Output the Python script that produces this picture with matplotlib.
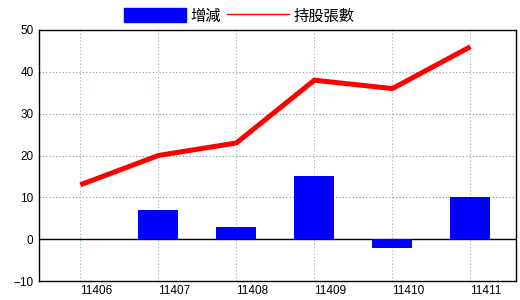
import matplotlib
matplotlib.use('Agg')
import matplotlib.pyplot as plt
from matplotlib.patches import Patch
from matplotlib.lines import Line2D

# data
months = ['11406', '11407', '11408', '11409', '11410', '11411']
change = [0, 7, 3, 15, -2, 10]        # 增減
holdings = [13, 20, 23, 38, 36, 46]   # 持股張數

plt.rcParams['font.family'] = ['Liberation Sans', 'DejaVu Sans']

fig = plt.figure(figsize=(5.2, 3.0), dpi=100)
ax = fig.add_axes([39 / 520, 1 - 281 / 300, (516 - 39) / 520, (281 - 30) / 300])

xs = list(range(len(months)))
ax.bar(xs, change, width=0.51, color='#0000ff', zorder=3)
ax.plot(xs, holdings, color='#ff0000', lw=3.6, zorder=4, solid_capstyle='butt')
ax.axhline(0, color='black', lw=1, zorder=2)

ax.set_xlim(-0.53, 5.585)
ax.set_ylim(-10, 50)
ax.set_yticks([-10, 0, 10, 20, 30, 40, 50])
ax.set_xticks(xs)
ax.set_xticklabels(months, ha='left')

# grid: blue-grey dotted verticals, grey dotted horizontals
for x in xs:
	ax.axvline(x, color='#8fb4c8', lw=0.8, ls=(0, (1, 2)), zorder=1)
for y in [10, 20, 30, 40]:
	ax.axhline(y, color='#909090', lw=0.8, ls=(0, (1, 2)), zorder=1)

ax.tick_params(axis='both', length=0, labelsize=8.5, colors='black')
ax.tick_params(axis='x', pad=3)
ax.tick_params(axis='y', pad=4)
for sp in ax.spines.values():
	sp.set_color('black')
	sp.set_linewidth(1)

handles = [Patch(color='#0000ff', label='增減'),
		Line2D([0], [0], color='#ff0000', lw=1, label='持股張數')]
fig.legend(handles=handles, loc='center', bbox_to_anchor=(239 / 520, 1 - 16 / 300),
		ncol=2, frameon=False, handlelength=4.1, handleheight=1.05,
		handletextpad=0.25, columnspacing=0.4, borderpad=0,
		prop={'family': ['Noto Sans CJK TC', 'DejaVu Sans'], 'size': 11})

fig.savefig('out.png', dpi=100)
